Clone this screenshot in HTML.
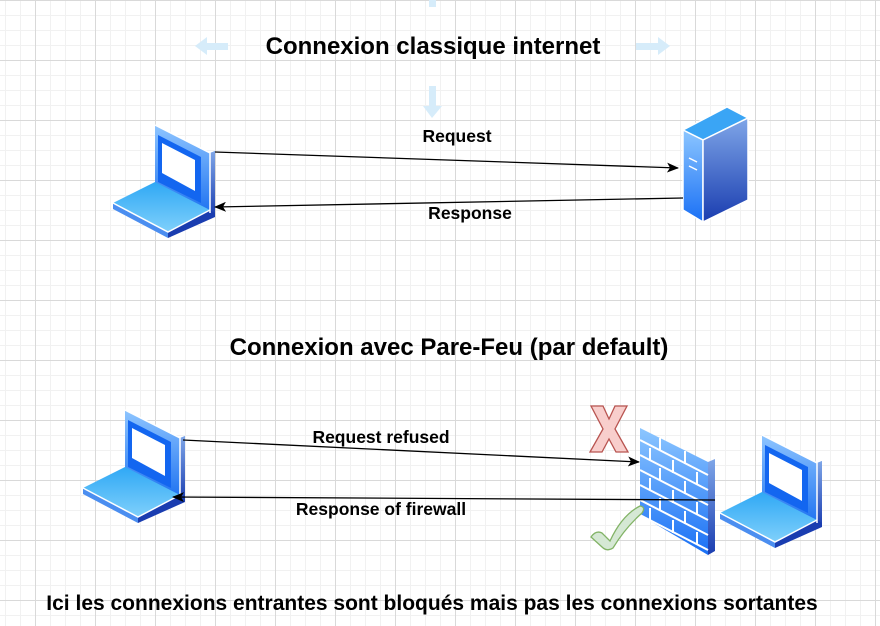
<!DOCTYPE html>
<html><head><meta charset="utf-8"><style>
html,body{margin:0;padding:0}
body{width:880px;height:626px;overflow:hidden;position:relative;background:#fff;
background-image:linear-gradient(#d9d9d9 1px,transparent 1px),linear-gradient(90deg,#d9d9d9 1px,transparent 1px),linear-gradient(#f1f1f1 1px,transparent 1px),linear-gradient(90deg,#f1f1f1 1px,transparent 1px);
background-size:60px 60px,60px 60px,15px 15px,15px 15px;background-position:0 0,35px 0,0 0,5px 0;font-family:"Liberation Sans",sans-serif}
.t{position:absolute;font-weight:bold;color:#000;white-space:nowrap;transform:translateX(-50%);line-height:1.15}
svg{position:absolute;left:0;top:0}
</style></head><body>
<svg width="880" height="626" viewBox="0 0 880 626">
<defs>
<linearGradient id="gs" x1="0" y1="0" x2="0" y2="1"><stop offset="0" stop-color="#8ec5ff"/><stop offset="1" stop-color="#1a6ff0"/></linearGradient>
<linearGradient id="gb" x1="0" y1="0" x2="0" y2="1"><stop offset="0" stop-color="#2fa8f5"/><stop offset="1" stop-color="#7fd0fb"/></linearGradient>
<linearGradient id="gd" x1="0" y1="0" x2="0" y2="1"><stop offset="0" stop-color="#7fa6e8"/><stop offset="1" stop-color="#1a3db0"/></linearGradient>
<linearGradient id="gw" x1="0" y1="0" x2="0" y2="1"><stop offset="0" stop-color="#8cc6ff"/><stop offset="1" stop-color="#1a70f5"/></linearGradient>
<g id="lap">
<polygon points="42,0 97,28 102,26 102,92 97,88 42,59" fill="url(#gs)"/>
<polygon points="97,28 102,26 102,92 97,88" fill="url(#gd)"/>
<polygon points="45,10 88,32 88,78 45,57" fill="#1366f0"/>
<polygon points="49,18 82,35 82,66 49,48" fill="#fff"/>
<polygon points="0,78 42,57 97,85 55,107" fill="url(#gb)"/>
<polygon points="0,78 55,107 55,113 0,84" fill="#4b8ef0"/>
<polygon points="55,107 97,85 102,88 102,92 55,113" fill="#1a3db0"/>
<polyline points="0,78 55,107 97,85" fill="none" stroke="#fff" stroke-width="1.5"/>
<polyline points="42,0 97,28 97,88" fill="none" stroke="#fff" stroke-width="1.5"/>
</g>
<marker id="ar" markerWidth="12" markerHeight="10" refX="11" refY="5" orient="auto" markerUnits="userSpaceOnUse"><path d="M0,0 L12,5 L0,10 L3,5 Z" fill="#000"/></marker>
</defs>
<g fill="#d6ecfa">
<polygon points="195,46 207,37 207,43 228,43 228,50 207,50 207,55"/>
<polygon points="670,46 658,37 658,43 636,43 636,50 658,50 658,55"/>
<polygon points="432,118 423,106 429,106 429,86 436,86 436,106 442,106"/>
<rect x="429" y="0" width="7" height="7"/>
</g>
<use href="#lap" x="113" y="125"/>
<use href="#lap" x="83" y="410"/>
<use href="#lap" x="720" y="435"/>
<polygon points="683,130 727,107 748,118 703,140" fill="#3aa5f5" stroke="#fff" stroke-width="1.5"/>
<polygon points="683,130 703,140 703,222 683,210" fill="url(#gw)" stroke="#fff" stroke-width="1.5"/>
<polygon points="703,140 748,118 748,200 703,222" fill="url(#gd)" stroke="#fff" stroke-width="1.5"/>
<line x1="689" y1="158" x2="697" y2="162" stroke="#fff" stroke-width="1.5"/>
<line x1="689" y1="166" x2="697" y2="170" stroke="#fff" stroke-width="1.5"/>
<polygon points="640,428 708,462 708,555 640,515" fill="url(#gw)"/>
<polygon points="708,462 715,459 715,551 708,555" fill="url(#gd)"/>
<g stroke="#fff" stroke-width="2">
<line x1="640" y1="440" x2="708" y2="475"/><line x1="640" y1="455" x2="708" y2="490"/>
<line x1="640" y1="470" x2="708" y2="505"/><line x1="640" y1="485" x2="708" y2="520"/>
<line x1="640" y1="500" x2="708" y2="535"/><line x1="640" y1="515" x2="708" y2="550"/>
<line x1="660" y1="438" x2="660" y2="451"/><line x1="685" y1="451" x2="685" y2="464"/>
<line x1="650" y1="448" x2="650" y2="461"/><line x1="673" y1="460" x2="673" y2="473"/><line x1="697" y1="472" x2="697" y2="485"/>
<line x1="660" y1="468" x2="660" y2="481"/><line x1="685" y1="481" x2="685" y2="494"/>
<line x1="650" y1="478" x2="650" y2="491"/><line x1="673" y1="490" x2="673" y2="503"/><line x1="697" y1="502" x2="697" y2="515"/>
<line x1="660" y1="498" x2="660" y2="511"/><line x1="685" y1="511" x2="685" y2="524"/>
<line x1="650" y1="508" x2="650" y2="521"/><line x1="673" y1="520" x2="673" y2="533"/><line x1="697" y1="532" x2="697" y2="545"/>
</g>
<path d="M591,406 L603,406 L609,419 L615,406 L627,406 L615,429 L628,452 L616,452 L609,439 L602,452 L590,452 L603,429 Z" fill="#f8cecc" stroke="#b85450" stroke-width="1.3"/>
<path d="M591,537 Q596,530 602,533 L610,541 Q622,515 640,506 Q646,507 642,513 Q625,528 613,548 Q607,552 602,547 Z" fill="#d5e8d4" stroke="#82b366" stroke-width="1.3"/>
<g stroke="#000" stroke-width="1.3" fill="none">
<line x1="215" y1="152" x2="678" y2="168" marker-end="url(#ar)"/>
<line x1="683" y1="198" x2="215" y2="207" marker-end="url(#ar)"/>
<line x1="183" y1="440" x2="639" y2="462" marker-end="url(#ar)"/>
<line x1="715" y1="500" x2="173" y2="497" marker-end="url(#ar)"/>
</g>
</svg>
<div class="t" style="left:433px;top:33px;font-size:24px">Connexion classique internet</div>
<div class="t" style="left:457px;top:126px;font-size:17.5px">Request</div>
<div class="t" style="left:470px;top:203px;font-size:17.5px">Response</div>
<div class="t" style="left:449px;top:334px;font-size:24px">Connexion avec Pare-Feu (par default)</div>
<div class="t" style="left:381px;top:427px;font-size:17.5px">Request refused</div>
<div class="t" style="left:381px;top:499px;font-size:17.5px">Response of firewall</div>
<div class="t" style="left:432px;top:592px;font-size:21px">Ici les connexions entrantes sont bloqués mais pas les connexions sortantes</div>
</body></html>
